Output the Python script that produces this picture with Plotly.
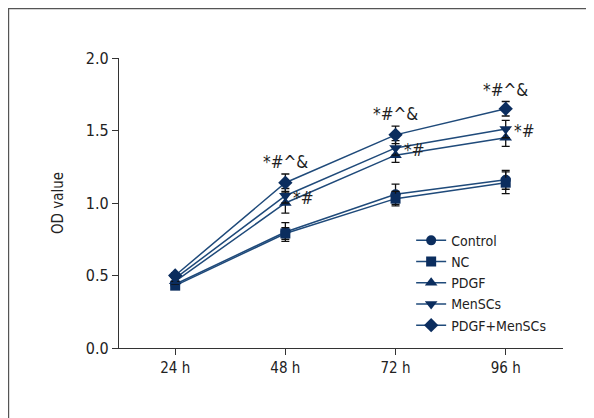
import plotly.graph_objects as go

categories = ["24 h", "48 h", "72 h", "96 h"]
series_names = ["Control", "NC", "PDGF", "MenSCs", "PDGF+MenSCs"]
control = [0.44, 0.80, 1.06, 1.16]
nc = [0.43, 0.79, 1.03, 1.14]
pdgf = [0.46, 1.00, 1.33, 1.45]
menscs = [0.48, 1.05, 1.38, 1.51]
pdgf_menscs = [0.50, 1.14, 1.47, 1.65]
err_control = [0.02, 0.065, 0.07, 0.065]
err_nc = [0.02, 0.04, 0.05, 0.075]
err_pdgf = [0.02, 0.07, 0.05, 0.06]
err_menscs = [0.02, 0.05, 0.05, 0.06]
err_pdgf_menscs = [0.02, 0.06, 0.06, 0.05]
sig_top = ["", "*#^&", "*#^&", "*#^&"]
sig_side = ["", "*#", "*#", "*#"]
tick_vals = [0.0, 0.5, 1.0, 1.5, 2.0]
tick_text = ["0.0", "0.5", "1.0", "1.5", "2.0"]

FONT = "DejaVu Sans Condensed, Liberation Sans Narrow, sans-serif"
MARK = "#0b2d5e"
LINE = "#1f4a7a"

values = [control, nc, pdgf, menscs, pdgf_menscs]
errors = [err_control, err_nc, err_pdgf, err_menscs, err_pdgf_menscs]
symbols = ["circle", "square", "triangle-up", "triangle-down", "diamond"]
sizes = [10, 10, 11, 11, 11]

fig = go.Figure()
for name, v, e, s, sz in zip(series_names, values, errors, symbols, sizes):
    fig.add_trace(go.Scatter(
        x=categories, y=v, name=name, mode="lines+markers",
        line=dict(color=LINE, width=1.5),
        marker=dict(symbol=s, size=sz, color=MARK),
        error_y=dict(type="data", array=e, visible=True, color="#111111",
                     thickness=1.3, width=4),
    ))

for i, c in enumerate(categories):
    if sig_top[i]:
        top = pdgf_menscs[i] + err_pdgf_menscs[i]
        fig.add_annotation(x=c, y=top, text=sig_top[i], showarrow=False,
                           yanchor="bottom", yshift=0,
                           font=dict(family=FONT, size=17, color="#222"))
    if sig_side[i]:
        fig.add_annotation(x=c, y=menscs[i], text=sig_side[i], showarrow=False,
                           xanchor="left", xshift=6, yshift=-2,
                           font=dict(family=FONT, size=17, color="#222"))

# page offset compensation (body margin 8px)
L, R, T, B = 111, 39, 50, 78
PW, PH = 594 - L - R, 418 - T - B
def px_x(p):
    return (p - L) / PW
def px_y(p):
    return (418 - B - p) / PH

fig.add_shape(type="rect", xref="paper", yref="paper",
              x0=px_x(0.6), x1=px_x(620), y0=px_y(440), y1=px_y(0.6),
              line=dict(color="#555555", width=1.2), fillcolor="rgba(0,0,0,0)")

fig.update_layout(
    width=594, height=418,
    margin=dict(l=L, r=R, t=T, b=B),
    paper_bgcolor="white", plot_bgcolor="white",
    font=dict(family=FONT, size=16, color="#222"),
    showlegend=True,
    legend=dict(x=0.658, y=0.425, xanchor="left", yanchor="top",
                bgcolor="rgba(0,0,0,0)", font=dict(family=FONT, size=14),
                itemwidth=30, tracegroupgap=0),
    xaxis=dict(type="category", range=[-0.51, 3.52], showline=True,
               linecolor="#333", linewidth=1.2, ticks="outside", ticklen=6,
               tickcolor="#333", showgrid=False, zeroline=False,
               tickfont=dict(family=FONT, size=15)),
    yaxis=dict(range=[0, 2], tickvals=tick_vals, ticktext=tick_text,
               showline=True, linecolor="#333", linewidth=1.2,
               ticks="outside", ticklen=6, tickcolor="#333",
               showgrid=False, zeroline=False,
               title=dict(text="OD value", font=dict(family=FONT, size=15), standoff=18),
               tickfont=dict(family=FONT, size=16)),
)

fig.write_html("out.html")
